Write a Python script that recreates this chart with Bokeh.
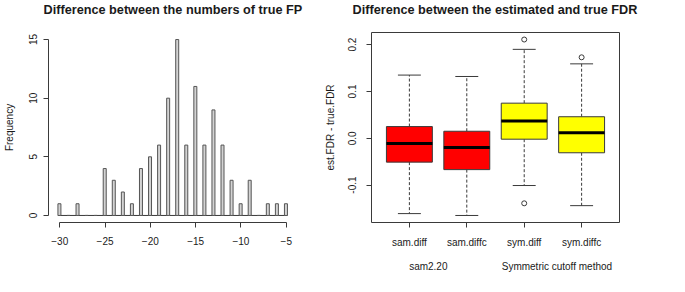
import numpy as np
from bokeh.plotting import figure
from bokeh.layouts import row
from bokeh.models import (Range1d, FixedTicker, LinearAxis, NumeralTickFormatter,
                          Title)
from bokeh.embed import file_html
from bokeh.resources import INLINE

# ---- Histogram data (difference between the numbers of true FP) ----
fp_diff = [-30, -29, -28, -27, -26, -25, -24, -23, -22, -21, -20, -19, -18,
           -17, -16, -15, -14, -13, -12, -11, -10, -9, -8, -7, -6, -5]
fp_freq = [1, 0, 1, 0, 0, 4, 3, 2, 1, 4, 5, 6, 10,
           15, 6, 11, 6, 9, 6, 3, 1, 3, 0, 1, 1, 1]
fp_ticks = [-30, -25, -20, -15, -10, -5]
freq_ticks = [0, 5, 10, 15]

# ---- Boxplot data (difference between estimated and true FDR) ----
methods = ["sam.diff", "sam.diffc", "sym.diff", "sym.diffc"]
lower_whisker = [-0.161, -0.165, -0.101, -0.144]
q1 = [-0.051, -0.067, -0.002, -0.031]
median = [-0.011, -0.020, 0.037, 0.012]
q3 = [0.025, 0.015, 0.075, 0.046]
upper_whisker = [0.135, 0.132, 0.190, 0.159]
outlier_method = ["sym.diff", "sym.diff", "sym.diffc"]
outlier_value = [0.211, -0.139, 0.173]
box_colors = ["#FF0000", "#FF0000", "#FFFF00", "#FFFF00"]
groups = ["sam2.20", "Symmetric cutoff method"]
fdr_ticks = [-0.1, 0.0, 0.1, 0.2]

FONT = "Liberation Sans"
TXT = "#1a1a1a"
LINE = "#3a3a3a"


def style_axis(ax, size="10px"):
    ax.axis_line_color = LINE
    ax.major_tick_line_color = LINE
    ax.minor_tick_line_color = None
    ax.major_tick_out = 5
    ax.major_tick_in = 0
    ax.major_label_text_font = FONT
    ax.major_label_text_font_size = size
    ax.major_label_text_color = TXT
    ax.axis_label_text_font = FONT
    ax.axis_label_text_font_size = "10px"
    ax.axis_label_text_font_style = "normal"
    ax.axis_label_text_color = TXT


def style_title(p, text, offset):
    # blank spacer panel between the frame and the (outermost) main title
    p.add_layout(Title(text=" ", text_font_size="10px", standoff=3), "above")
    p.title.text = text
    p.title.align = "left"
    p.title.offset = offset
    p.title.text_font = FONT
    p.title.text_font_size = "12.7px"
    p.title.text_font_style = "bold"
    p.title.text_color = TXT
    p.title.standoff = 0


# ================= Left: histogram =================
p1 = figure(width=320, height=292, output_backend="svg", toolbar_location=None,
            x_range=Range1d(-31.24, -3.76), y_range=Range1d(-0.6, 15.6),
            min_border_left=48, min_border_right=23, min_border_top=32,
            min_border_bottom=70)
style_title(p1, "Difference between the numbers of true FP", -5)
p1.outline_line_color = None
p1.xgrid.visible = False
p1.ygrid.visible = False
p1.background_fill_color = "white"
p1.border_fill_color = "white"

fx = np.array(fp_diff, dtype=float)
p1.segment(x0=[fx.min() - 0.2], y0=[0], x1=[fx.max() + 0.13], y1=[0],
           line_color=LINE, line_width=1)
p1.quad(left=fx - 0.2, right=fx + 0.13, bottom=0, top=fp_freq,
        fill_color="#D3D3D3", line_color="#555555", line_width=1)

for ax in p1.xaxis:
    style_axis(ax)
    ax.ticker = FixedTicker(ticks=fp_ticks)
    ax.bounds = (min(fp_ticks), max(fp_ticks))
    ax.major_label_standoff = 9
for ax in p1.yaxis:
    style_axis(ax)
    ax.ticker = FixedTicker(ticks=freq_ticks)
    ax.bounds = (min(freq_ticks), max(freq_ticks))
    ax.major_label_orientation = "vertical"
    ax.major_label_standoff = 6
    ax.axis_label = "Frequency"
    ax.axis_label_standoff = 12

# ================= Right: boxplot =================
p2 = figure(width=365, height=292, output_backend="svg", toolbar_location=None,
            x_range=Range1d(0.34, 4.66), y_range=Range1d(-0.180, 0.226),
            min_border_left=51, min_border_right=66, min_border_top=32,
            min_border_bottom=70)
style_title(p2, "Difference between the estimated and true FDR", -19)
p2.outline_line_color = LINE
p2.outline_line_width = 1
p2.xgrid.visible = False
p2.ygrid.visible = False
p2.background_fill_color = "white"
p2.border_fill_color = "white"

pos = np.arange(1, len(methods) + 1, dtype=float)
# whiskers (dashed)
p2.segment(x0=pos, y0=q3, x1=pos, y1=upper_whisker, line_color=LINE,
           line_dash="3 2", line_width=1)
p2.segment(x0=pos, y0=q1, x1=pos, y1=lower_whisker, line_color=LINE,
           line_dash="3 2", line_width=1)
# caps
p2.segment(x0=pos - 0.2, y0=upper_whisker, x1=pos + 0.2, y1=upper_whisker,
           line_color=LINE, line_width=1)
p2.segment(x0=pos - 0.2, y0=lower_whisker, x1=pos + 0.2, y1=lower_whisker,
           line_color=LINE, line_width=1)
# boxes
p2.quad(left=pos - 0.4, right=pos + 0.4, bottom=q1, top=q3,
        fill_color=box_colors, line_color=LINE, line_width=1)
# medians
p2.segment(x0=pos - 0.4, y0=median, x1=pos + 0.4, y1=median,
           line_color="black", line_width=3)
# outliers
opos = [methods.index(m) + 1 for m in outlier_method]
p2.scatter(x=opos, y=outlier_value, marker="circle", size=5,
           fill_color=None, line_color=LINE, line_width=1)

for ax in p2.xaxis:
    style_axis(ax)
    ax.axis_line_color = None
    ax.ticker = FixedTicker(ticks=list(pos))
    ax.major_label_overrides = {int(i + 1): m for i, m in enumerate(methods)}
    ax.major_label_standoff = 9
for ax in p2.yaxis:
    style_axis(ax)
    ax.axis_line_color = None
    ax.ticker = FixedTicker(ticks=fdr_ticks)
    ax.formatter = NumeralTickFormatter(format="0.0")
    ax.major_label_orientation = "vertical"
    ax.major_label_standoff = 10
    ax.axis_label = "est.FDR - true.FDR"
    ax.axis_label_standoff = 10

group_pos = [1.33, 3.57]
gax = LinearAxis(ticker=FixedTicker(ticks=group_pos))
style_axis(gax)
gax.axis_line_color = None
gax.major_tick_line_color = None
gax.major_tick_out = 0
gax.major_label_standoff = 10
gax.major_label_overrides = {gp: g for gp, g in zip(group_pos, groups)}
p2.add_layout(gax, "below")

layout = row(p1, p2)
open("out.html", "w").write(file_html(layout, INLINE))
